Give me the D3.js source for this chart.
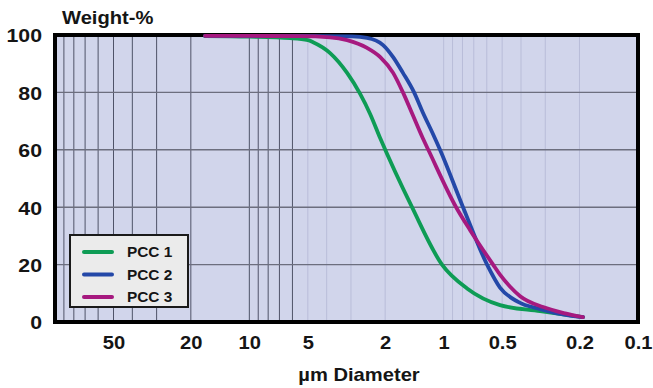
<!DOCTYPE html>
<html><head><meta charset="utf-8">
<script src="https://cdn.jsdelivr.net/npm/d3@7"></script>
<style>
body{margin:0;background:#fff}
svg text{font-family:"Liberation Sans",Arial,Helvetica,sans-serif;font-weight:bold;fill:#151515}
</style>
</head><body>
<svg id="c" width="653" height="388"></svg>
<script>
// ---- data ----
const xTickValues = [50, 20, 10, 5, 2, 1, 0.5, 0.2, 0.1];
const xTickLabels = ["50", "20", "10", "5", "2", "1", "0.5", "0.2", "0.1"];
const yTickValues = [0, 20, 40, 60, 80, 100];
const gridDark = [90, 80, 70, 60, 50, 40, 30, 20, 10, 9, 8, 7, 6];
const gridFaint = [5, 4, 3, 2, 1, 0.9, 0.8, 0.7, 0.6, 0.5, 0.4, 0.3, 0.2];
const seriesNames = ["PCC 1", "PCC 2", "PCC 3"];
const seriesColors = ["#0e9c55", "#2448a8", "#a6197f"];

const diam1 = [16.9, 10, 6.17, 4.99, 4.70, 3.84, 3.14, 2.69, 2.39, 2.12, 1.455, 1.02, 0.758, 0.513, 0.319, 0.192];
const pcc1  = [99.6, 99.4, 98.9, 98.2, 97.5, 93.7, 86.8, 79.5, 72.5, 64, 40, 20, 11.7, 5.9, 3.8, 1.7];

const diam2 = [16.9, 5.48, 2.96, 2.48, 2.05, 1.82, 1.62, 1.42, 1.28, 1.135, 1.044, 0.795, 0.598, 0.513, 0.414, 0.319, 0.232, 0.192];
const pcc2  = [99.7, 99.7, 99.5, 99.0, 96.5, 92.3, 86.8, 80, 73, 65.5, 60, 40, 20, 12, 7, 4.5, 2.4, 1.7];

const diam3 = [16.9, 5.48, 3.84, 3.14, 2.48, 2.12, 1.82, 1.62, 1.44, 1.28, 1.20, 0.863, 0.731, 0.557, 0.513, 0.455, 0.404, 0.308, 0.237, 0.192];
const pcc3  = [99.7, 99.6, 99.2, 98.2, 95.5, 92.3, 86.8, 80, 72, 64, 60, 40, 32, 20, 16.5, 12.3, 9, 5.2, 3, 1.7];

const series = [
  {name: seriesNames[0], color: seriesColors[0], d: diam1, v: pcc1},
  {name: seriesNames[1], color: seriesColors[1], d: diam2, v: pcc2},
  {name: seriesNames[2], color: seriesColors[2], d: diam3, v: pcc3}
];

// ---- chart ----
const svg = d3.select("#c");
const L = 55, R = 638, T = 35, B = 322;
const x = d3.scaleLog().domain([100, 0.1]).range([L, R]);
const y = d3.scaleLinear().domain([0, 100]).range([B, T]);
const SX = 1.12;

svg.append("rect").attr("x", L).attr("y", T).attr("width", R - L).attr("height", B - T)
  .attr("fill", "#d1d5eb");

// faint vertical grid
svg.append("g").selectAll("line").data(gridFaint).join("line")
  .attr("x1", d => x(d)).attr("x2", d => x(d)).attr("y1", T).attr("y2", B)
  .attr("stroke", "#b9bdd9").attr("stroke-width", 1);
// dark vertical grid
svg.append("g").selectAll("line").data(gridDark).join("line")
  .attr("x1", d => x(d)).attr("x2", d => x(d)).attr("y1", T).attr("y2", B)
  .attr("stroke", "#4f5368").attr("stroke-width", 1);
// horizontal grid
svg.append("g").selectAll("line").data(yTickValues.filter(v => v > 0 && v < 100)).join("line")
  .attr("x1", L).attr("x2", R).attr("y1", d => y(d)).attr("y2", d => y(d))
  .attr("stroke", "#6c6e7e").attr("stroke-width", 1.4);

// frame
svg.append("rect").attr("x", L).attr("y", T).attr("width", R - L).attr("height", B - T)
  .attr("fill", "none").attr("stroke", "#000").attr("stroke-width", 4);

// curves
const line = d3.line().x(p => x(p[0])).y(p => y(p[1])).curve(d3.curveMonotoneX);
series.forEach(s => {
  svg.append("path").datum(s.d.map((d, i) => [d, s.v[i]]))
    .attr("d", line).attr("fill", "none").attr("stroke", s.color)
    .attr("stroke-width", 3.8).attr("stroke-linecap", "round");
});

// x axis
const xAxis = d3.axisBottom(x).tickValues(xTickValues).tickSize(0)
  .tickFormat((d, i) => xTickLabels[i]);
const gx = svg.append("g").attr("transform", `translate(0,${B})`).call(xAxis);
gx.select(".domain").remove();
gx.selectAll("text").attr("y", 27).attr("dy", 0).attr("font-size", 18)
  .attr("transform", `scale(${SX},1)`).style("fill", "#151515")
  .attr("font-family", null);

// y axis
const yAxis = d3.axisLeft(y).tickValues(yTickValues).tickSize(0);
const gy = svg.append("g").attr("transform", `translate(${L - 13},0)`).call(yAxis);
gy.select(".domain").remove();
gy.selectAll("text").attr("x", 0).attr("dy", "0.36em").attr("font-size", 19)
  .attr("text-anchor", "end").attr("transform", `scale(${SX},1)`).style("fill", "#151515")
  .attr("font-family", null);

// titles
svg.append("text").attr("transform", `translate(62,24) scale(${SX},1)`)
  .attr("font-size", 18).text("Weight-%");
svg.append("text").attr("transform", `translate(359,381) scale(${SX},1)`)
  .attr("text-anchor", "middle").attr("font-size", 18).text("µm Diameter");

// legend
const lg = svg.append("g");
lg.append("rect").attr("x", 70).attr("y", 235).attr("width", 118).attr("height", 72)
  .attr("fill", "#ebebeb").attr("stroke", "#1a1a1a").attr("stroke-width", 2);
series.forEach((s, i) => {
  const yy = 252 + i * 22.5;
  lg.append("line").attr("x1", 84).attr("x2", 112).attr("y1", yy).attr("y2", yy)
    .attr("stroke", s.color).attr("stroke-width", 4).attr("stroke-linecap", "round");
  lg.append("text").attr("transform", `translate(127,${yy + 5}) scale(1.1,1)`)
    .attr("font-size", 14).text(s.name);
});
</script>
</body></html>
